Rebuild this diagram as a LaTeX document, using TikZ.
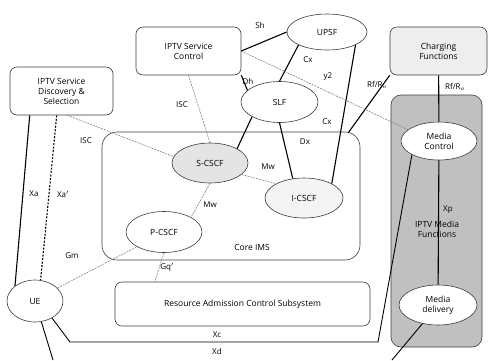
\documentclass[tikz,border=0pt]{standalone}
\usepackage{fontspec}
\setmainfont{Open Sans}
\usetikzlibrary{shapes.geometric}
\definecolor{mediashade}{RGB}{192, 192, 192}
\definecolor{chargefill}{RGB}{238, 238, 238}
\definecolor{scscffill}{RGB}{228, 228, 228}
\definecolor{icscffill}{RGB}{244, 244, 244}
\definecolor{softgray}{RGB}{130, 130, 130}
\definecolor{framedark}{RGB}{60, 60, 60}
\tikzstyle{fnbox}=[draw=framedark, line width=0.6pt, rounded corners=7pt, align=center, inner sep=0pt]
\tikzstyle{fnell}=[ellipse, draw=framedark, line width=0.6pt, fill=white, align=center, inner sep=0pt]
\tikzstyle{solidref}=[line width=1.1pt, black]
\tikzstyle{softref}=[line width=0.6pt, softgray, dash pattern=on 2pt off 1pt]
\tikzstyle{lbl}=[font=\fontsize{8}{9}\selectfont, inner sep=1pt]

\begin{document}
\begin{tikzpicture}[x=1pt, y=-1pt, font=\fontsize{8.5}{10}\selectfont]
    \useasboundingbox (0,0) rectangle (489,360);

    % Background areas
    \node[fnbox, fill=mediashade, rounded corners=10pt, minimum width=91pt, minimum height=252pt] (mfunc) at (436.5,221) {};
    \node[fnbox, rounded corners=15pt, minimum width=258pt, minimum height=128pt] (ims) at (231,196) {};
    \node (imslbl) at (252,247) {Core IMS};

    % Functional entities
    \node[fnbox, minimum width=105pt, minimum height=48pt] (ctrl) at (188.5,51) {IPTV Service\\Control};
    \node[fnbox, minimum width=103pt, minimum height=48pt] (disc) at (61.5,91) {IPTV Service\\Discovery \&\\Selection};
    \node[fnbox, fill=chargefill, minimum width=97pt, minimum height=48pt] (chg) at (438.5,51) {Charging\\Functions};
    \node[fnbox, minimum width=255pt, minimum height=44pt] (racs) at (242.5,304) {Resource Admission Control Subsystem};

    \node[fnell, minimum width=80pt, minimum height=36pt] (upsf) at (327,32) {UPSF};
    \node[fnell, minimum width=77pt, minimum height=41pt] (slf) at (279.5,102) {SLF};
    \node[fnell, fill=scscffill, minimum width=76pt, minimum height=40pt] (scscf) at (210,163) {S-CSCF};
    \node[fnell, fill=icscffill, minimum width=78pt, minimum height=40pt] (icscf) at (304,198) {I-CSCF};
    \node[fnell, minimum width=76pt, minimum height=41pt] (pcscf) at (164,232) {P-CSCF};
    \node[fnell, minimum width=56pt, minimum height=42pt] (ue) at (35,301) {UE};
    \node[fnell, minimum width=76pt, minimum height=38pt] (mctl) at (439,141) {Media\\Control};
    \node[fnell, minimum width=78pt, minimum height=40pt] (mdel) at (438,305) {Media\\delivery};

    % Free ends of the transport paths
    \coordinate (xcl) at (70,342);
    \coordinate (xcr) at (378,342);
    \coordinate (xdl) at (53,360);
    \coordinate (xdr) at (392,360);

    % Reference points (solid)
    \draw[solidref] (ctrl.east) -- (upsf.west);
    \draw[solidref] (ctrl.south east) -- (slf.160);
    \draw[solidref] (upsf.south west) -- (slf.north);
    \draw[solidref] (upsf.south east) -- (icscf.north east);
    \draw[solidref] (slf.south) -- (icscf.120);
    \draw[solidref] (slf.south west) -- (scscf.north east);
    \draw[solidref] ([xshift=-12pt, yshift=-1pt]ims.north east) -- (chg.south west);
    \draw[solidref] (chg) -- (mctl);
    \draw[solidref] (mctl) -- (mdel);
    \draw[solidref] ([xshift=20pt]disc.south west) -- (ue.north west);
    \draw[solidref, dash pattern=on 2pt off 1.5pt] ([xshift=47pt]disc.south west) -- (ue.75);
    \draw[solidref, line width=0.9pt] (ue.-45) -- (xcl) -- (xcr) -- (mctl.south west);
    \draw[solidref, line width=0.9pt] (ue) -- (xdl);
    \draw[solidref, line width=0.9pt] (mdel) -- (xdr);

    % Reference points (dotted)
    \draw[softref] (ctrl.east) -- (mctl.160);
    \draw[softref] (ctrl.south) -- (scscf.north);
    \draw[softref] ([xshift=6pt]disc.south) -- (scscf.170);
    \draw[softref] (scscf.-20) -- (icscf.north west);
    \draw[softref] (scscf.south) -- (pcscf.north east);
    \draw[softref] (ue.30) -- (pcscf.south west);
    \draw[softref] (pcscf.south) -- ([xshift=40pt]racs.north west);

    % Labels
    \node[lbl] (lsh) at (260,25) {Sh};
    \node[lbl] (ldh) at (248,81) {Dh};
    \node[lbl] (lcx1) at (308,60) {Cx};
    \node[lbl] (ly2) at (328,77) {y2};
    \node[lbl] (lcx2) at (327,122) {Cx};
    \node[lbl] (ldx) at (305,142) {Dx};
    \node[lbl] (lrf1) at (377,85) {Rf/R$_o$};
    \node[lbl] (lrf2) at (455,87) {Rf/R$_o$};
    \node[lbl] (lisc1) at (182,105) {ISC};
    \node[lbl] (lisc2) at (86,141) {ISC};
    \node[lbl] (lmw1) at (268,167) {Mw};
    \node[lbl] (lmw2) at (210,205) {Mw};
    \node[lbl] (lxa) at (34,194) {Xa};
    \node[lbl] (lxa2) at (63,194) {Xa$'$};
    \node[lbl] (lgm) at (72,256) {Gm};
    \node[lbl] (lgq) at (167,267) {Gq$'$};
    \node[lbl] (lxc) at (217,335) {Xc};
    \node[lbl] (lxd) at (217,351) {Xd};
    \node[lbl] (lxp) at (448,210) {Xp};
    \node[align=center] (mflbl) at (437,229) {IPTV Media\\Functions};
\end{tikzpicture}
\end{document}
